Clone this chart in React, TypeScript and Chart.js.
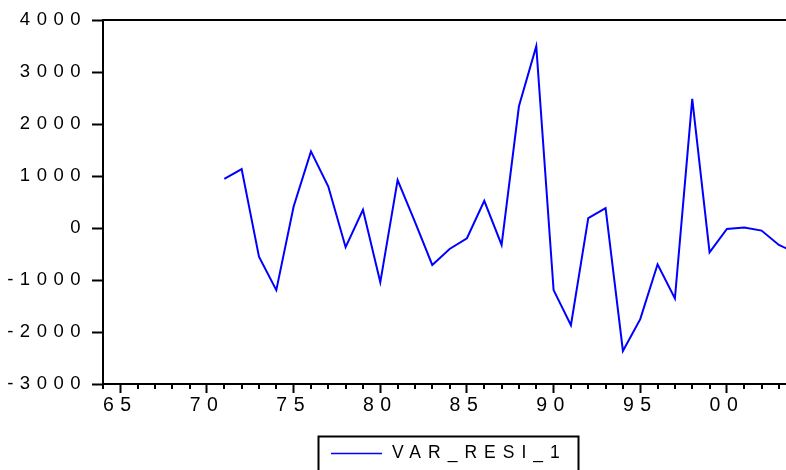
import React, { useEffect, useRef } from 'react';
import { Chart, registerables } from 'chart.js';

Chart.register(...registerables);

const seriesLabel = 'VAR_RESI_1';
const years = [
  1971, 1972, 1973, 1974, 1975, 1976, 1977, 1978, 1979, 1980,
  1981, 1982, 1983, 1984, 1985, 1986, 1987, 1988, 1989, 1990,
  1991, 1992, 1993, 1994, 1995, 1996, 1997, 1998, 1999, 2000,
  2001, 2002, 2003, 2004,
];
const residuals = [
  947, 1134, -551, -1194, 413, 1473, 798, -370, 349, -1045,
  920, 120, -711, -403, -197, 523, -326, 2341, 3498, -1194,
  -1869, 189, 382, -2364, -1753, -698, -1354, 2484, -467, -17,
  8, -50, -326, -480,
];
const yTickValues = [-3000, -2000, -1000, 0, 1000, 2000, 3000, 4000];
const xTickYears = [
  1964, 1965, 1966, 1967, 1968, 1969, 1970, 1971, 1972, 1973,
  1974, 1975, 1976, 1977, 1978, 1979, 1980, 1981, 1982, 1983,
  1984, 1985, 1986, 1987, 1988, 1989, 1990, 1991, 1992, 1993,
  1994, 1995, 1996, 1997, 1998, 1999, 2000, 2001, 2002, 2003,
];

const FONT = '"Liberation Sans", Arial, sans-serif';
const LINE_COLOR = '#0000FF';

const framePlugin = {
  id: 'frame',
  beforeDraw(chart: any) {
    chart.ctx.letterSpacing = '6.5px';
  },
  afterDraw(chart: any) {
    const ctx = chart.ctx;
    const { left, right, top, bottom } = chart.chartArea;
    const xs = chart.scales.x;
    ctx.save();
    ctx.strokeStyle = '#000';
    ctx.lineWidth = 2;
    // top frame line
    ctx.beginPath();
    ctx.moveTo(left - 1, top);
    ctx.lineTo(right, top);
    ctx.stroke();
    // minor ticks on x axis
    xs.ticks.forEach((t: any) => {
      if (t.value % 5 !== 0) {
        const px = Math.round(xs.getPixelForValue(t.value));
        ctx.beginPath();
        ctx.moveTo(px, bottom);
        ctx.lineTo(px, bottom + 5);
        ctx.stroke();
      }
    });
    // legend
    const bx = 318.5;
    const by = 436.5;
    ctx.lineWidth = 2;
    ctx.strokeRect(bx, by, 260, 50);
    ctx.strokeStyle = LINE_COLOR;
    ctx.lineWidth = 1.5;
    ctx.beginPath();
    ctx.moveTo(331, 453.5);
    ctx.lineTo(382, 453.5);
    ctx.stroke();
    ctx.fillStyle = '#000';
    ctx.letterSpacing = '7px';
    ctx.font = `17.5px ${FONT}`;
    ctx.textBaseline = 'middle';
    ctx.textAlign = 'left';
    ctx.fillText(seriesLabel, 392, 453);
    ctx.restore();
  },
};

export default function App() {
  const canvasRef = useRef<HTMLCanvasElement | null>(null);

  useEffect(() => {
    const canvas = canvasRef.current;
    if (!canvas) return;
    const chart = new Chart(canvas, {
      type: 'line',
      data: {
        datasets: [
          {
            label: seriesLabel,
            data: years.map((yr, i) => ({ x: yr, y: residuals[i] })),
            borderColor: LINE_COLOR,
            backgroundColor: LINE_COLOR,
            borderWidth: 2,
            pointRadius: 0,
            tension: 0,
            fill: false,
          },
        ],
      },
      options: {
        responsive: false,
        animation: false,
        maintainAspectRatio: false,
        layout: { padding: { left: 0, right: 0, top: 20, bottom: 0 } },
        plugins: {
          legend: { display: false },
          tooltip: { enabled: false },
          title: { display: false },
        },
        scales: {
          x: {
            type: 'linear',
            min: 1964,
            max: 2003.41,
            afterBuildTicks: (s: any) => {
              s.ticks = xTickYears.map((v) => ({ value: v }));
            },
            afterFit: (s: any) => {
              s.height = 86;
            },
            ticks: {
              autoSkip: false,
              maxRotation: 0,
              minRotation: 0,
              color: '#000',
              padding: 1,
              font: { size: 19.5, family: FONT },
              callback: (v: any) => (Number(v) % 5 === 0 ? String(v).slice(2) : ''),
            },
            grid: {
              display: true,
              drawOnChartArea: false,
              drawTicks: true,
              tickLength: 9,
              tickWidth: 2,
              tickColor: (ctx: any) =>
                ctx.tick && ctx.tick.value % 5 === 0 ? '#000' : 'rgba(0,0,0,0)',
            },
            border: { display: true, color: '#000', width: 2 },
          },
          y: {
            type: 'linear',
            min: -3000,
            max: 4000,
            afterBuildTicks: (s: any) => {
              s.ticks = yTickValues.map((v) => ({ value: v }));
            },
            afterFit: (s: any) => {
              s.width = 103;
            },
            ticks: {
              color: '#000',
              padding: 5,
              font: { size: 18.5, family: FONT },
              callback: (v: any) => String(v),
            },
            grid: {
              display: true,
              drawOnChartArea: false,
              drawTicks: true,
              tickLength: 11,
              tickWidth: 2,
              tickColor: '#000',
            },
            border: { display: true, color: '#000', width: 2 },
          },
        },
      },
      plugins: [framePlugin],
    });
    return () => chart.destroy();
  }, []);

  return (
    <div style={{ position: 'fixed', left: 0, top: 0, width: 786, height: 470, background: '#fff' }}>
      <canvas ref={canvasRef} width={786} height={470} style={{ display: 'block' }} />
    </div>
  );
}
